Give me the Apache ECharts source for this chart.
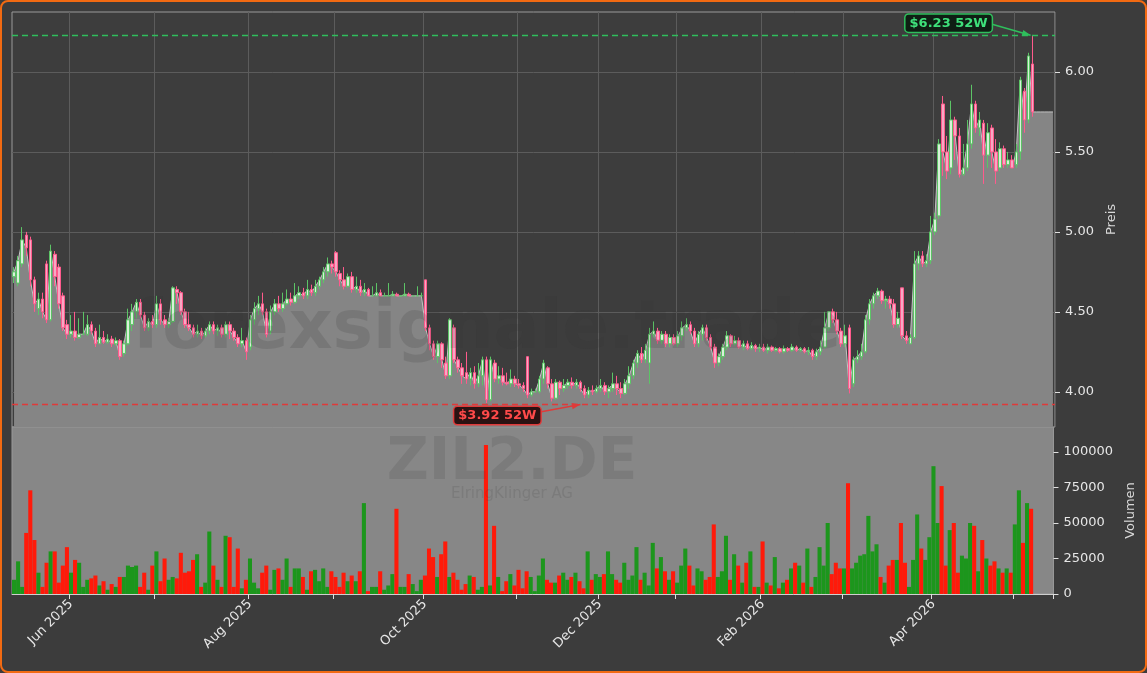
<!DOCTYPE html>
<html>
<head>
<meta charset="utf-8">
<script src="https://cdn.jsdelivr.net/npm/echarts@6.0.0/dist/echarts.min.js"></script>
<style>
  html, body { margin: 0; padding: 0; background: #3c3c3c; }
  #container { width: 1147px; height: 673px; box-sizing: border-box; border: 2px solid #f26a12; border-radius: 8px; background: #3c3c3c; }
</style>
</head>
<body>
<div id="container"></div>
<script>
// trading-day candles [open, close, low, high], month by month
var candlesMay25 = [[4.72,4.75,4.68,4.78],[4.68,4.82,4.66,4.85],[4.80,4.95,4.78,5.03],[4.98,4.90,4.85,5.00],[4.95,4.70,4.66,4.97],[4.70,4.55,4.50,4.72],[4.52,4.58,4.48,4.62],[4.58,4.50,4.46,4.62],[4.80,4.45,4.43,4.82],[4.45,4.88,4.44,4.92],[4.86,4.72,4.66,4.88],[4.78,4.55,4.52,4.80],[4.60,4.40,4.38,4.62],[4.42,4.36,4.33,4.45]];
var candlesJun25 = [[4.36,4.38,4.34,4.48],[4.38,4.34,4.32,4.50],[4.34,4.36,4.33,4.46],[4.36,4.36,4.36,4.50],[4.36,4.42,4.35,4.48],[4.42,4.38,4.36,4.44],[4.38,4.30,4.28,4.40],[4.30,4.34,4.30,4.42],[4.34,4.31,4.30,4.38],[4.31,4.33,4.30,4.36],[4.33,4.30,4.28,4.35],[4.30,4.32,4.29,4.34],[4.32,4.22,4.20,4.33],[4.24,4.30,4.22,4.32],[4.30,4.45,4.29,4.52],[4.42,4.50,4.38,4.55],[4.50,4.56,4.46,4.58],[4.56,4.48,4.46,4.58],[4.48,4.40,4.38,4.50],[4.40,4.44,4.38,4.46],[4.44,4.42,4.40,4.48]];
var candlesJul25 = [[4.42,4.55,4.40,4.60],[4.55,4.45,4.42,4.58],[4.45,4.42,4.40,4.48],[4.42,4.44,4.40,4.46],[4.44,4.65,4.43,4.66],[4.64,4.62,4.55,4.66],[4.62,4.50,4.48,4.63],[4.50,4.42,4.40,4.52],[4.42,4.40,4.38,4.50],[4.40,4.36,4.34,4.42],[4.36,4.38,4.34,4.42],[4.38,4.35,4.33,4.40],[4.35,4.38,4.34,4.40],[4.38,4.42,4.36,4.44],[4.42,4.38,4.36,4.44],[4.38,4.40,4.35,4.42],[4.40,4.36,4.34,4.42],[4.36,4.42,4.34,4.44],[4.42,4.38,4.33,4.44],[4.38,4.34,4.32,4.40],[4.34,4.30,4.28,4.36],[4.30,4.32,4.28,4.40],[4.32,4.25,4.20,4.34]];
var candlesAug25 = [[4.28,4.45,4.26,4.48],[4.45,4.52,4.42,4.56],[4.52,4.55,4.48,4.60],[4.55,4.50,4.48,4.62],[4.50,4.36,4.34,4.52],[4.38,4.50,4.36,4.54],[4.50,4.55,4.48,4.58],[4.55,4.52,4.50,4.60],[4.52,4.55,4.50,4.62],[4.55,4.58,4.54,4.64],[4.58,4.56,4.54,4.62],[4.56,4.60,4.55,4.68],[4.60,4.62,4.58,4.66],[4.62,4.60,4.58,4.65],[4.60,4.64,4.58,4.70],[4.64,4.62,4.60,4.67],[4.62,4.66,4.60,4.70],[4.66,4.70,4.64,4.72],[4.70,4.75,4.68,4.78],[4.75,4.80,4.72,4.84],[4.80,4.78,4.74,4.82]];
var candlesSep25 = [[4.87,4.75,4.72,4.88],[4.74,4.70,4.66,4.76],[4.70,4.66,4.64,4.78],[4.66,4.72,4.65,4.74],[4.72,4.64,4.62,4.75],[4.64,4.66,4.62,4.72],[4.66,4.62,4.60,4.70],[4.62,4.64,4.60,4.68],[4.64,4.60,4.60,4.65],[4.60,4.60,4.60,4.66],[4.60,4.62,4.60,4.68],[4.62,4.60,4.60,4.64],[4.60,4.60,4.60,4.62],[4.60,4.60,4.60,4.68],[4.60,4.61,4.60,4.63],[4.61,4.60,4.60,4.62],[4.60,4.60,4.60,4.60],[4.60,4.61,4.60,4.68],[4.61,4.60,4.60,4.62],[4.60,4.60,4.60,4.60],[4.60,4.60,4.60,4.66],[4.60,4.60,4.60,4.62]];
var candlesOct25 = [[4.70,4.40,4.38,4.70],[4.40,4.30,4.26,4.42],[4.30,4.22,4.20,4.32],[4.22,4.30,4.18,4.32],[4.30,4.20,4.15,4.31],[4.18,4.10,4.08,4.22],[4.10,4.45,4.08,4.46],[4.40,4.20,4.18,4.42],[4.20,4.15,4.12,4.22],[4.15,4.10,4.05,4.18],[4.12,4.08,4.05,4.25],[4.08,4.12,4.04,4.15],[4.12,4.05,4.02,4.16],[4.05,4.10,4.03,4.18],[4.10,4.20,4.04,4.22],[4.20,3.95,3.93,4.22],[3.95,4.20,3.94,4.22],[4.18,4.08,4.06,4.20],[4.08,4.10,4.05,4.16],[4.10,4.06,4.04,4.15],[4.06,4.05,4.04,4.12],[4.05,4.08,4.03,4.14],[4.08,4.05,4.03,4.10]];
var candlesNov25 = [[4.05,4.04,4.02,4.08],[4.04,4.02,4.00,4.06],[4.22,3.98,3.96,4.22],[3.98,4.00,3.97,4.02],[4.00,4.00,4.00,4.02],[4.00,4.08,3.99,4.10],[4.08,4.18,4.05,4.20],[4.15,4.05,4.02,4.16],[4.05,3.96,3.94,4.08],[3.96,4.06,3.95,4.08],[4.06,4.02,3.98,4.07],[4.02,4.04,4.00,4.08],[4.04,4.06,4.02,4.08],[4.06,4.04,4.02,4.09],[4.04,4.06,4.02,4.08],[4.06,4.02,4.00,4.07],[4.02,3.98,3.96,4.04],[3.98,4.01,3.96,4.03],[4.01,4.00,3.98,4.04],[4.00,4.02,3.99,4.04]];
var candlesDec25 = [[4.02,4.04,4.00,4.08],[4.04,4.00,3.98,4.06],[4.00,4.02,3.96,4.04],[4.02,4.05,4.00,4.12],[4.05,4.02,3.98,4.10],[4.02,3.99,3.96,4.06],[3.99,4.05,3.98,4.08],[4.05,4.10,4.02,4.16],[4.10,4.18,4.08,4.20],[4.18,4.24,4.15,4.26],[4.24,4.20,4.18,4.28],[4.20,4.26,4.18,4.30],[4.18,4.36,4.05,4.40],[4.36,4.38,4.34,4.44],[4.38,4.32,4.30,4.40],[4.32,4.36,4.30,4.38],[4.36,4.30,4.28,4.38],[4.30,4.34,4.28,4.36],[4.34,4.30,4.29,4.36]];
var candlesJan26 = [[4.30,4.35,4.28,4.38],[4.35,4.40,4.32,4.44],[4.40,4.42,4.38,4.46],[4.42,4.38,4.36,4.44],[4.38,4.30,4.28,4.40],[4.30,4.36,4.28,4.38],[4.36,4.40,4.32,4.42],[4.40,4.34,4.32,4.42],[4.34,4.28,4.26,4.36],[4.28,4.18,4.15,4.30],[4.18,4.22,4.16,4.24],[4.22,4.28,4.20,4.30],[4.28,4.35,4.26,4.38],[4.35,4.30,4.28,4.36],[4.30,4.32,4.29,4.35],[4.32,4.28,4.27,4.34],[4.28,4.30,4.26,4.32],[4.30,4.27,4.26,4.32],[4.27,4.29,4.26,4.31],[4.29,4.27,4.25,4.30],[4.27,4.28,4.25,4.30]];
var candlesFeb26 = [[4.28,4.26,4.25,4.30],[4.26,4.28,4.24,4.30],[4.28,4.26,4.25,4.29],[4.26,4.27,4.25,4.28],[4.27,4.25,4.24,4.28],[4.25,4.27,4.24,4.29],[4.27,4.26,4.25,4.28],[4.26,4.28,4.25,4.30],[4.28,4.26,4.25,4.29],[4.26,4.27,4.25,4.28],[4.27,4.25,4.24,4.28],[4.25,4.26,4.23,4.28],[4.26,4.22,4.20,4.27],[4.22,4.25,4.20,4.27],[4.25,4.28,4.23,4.32],[4.28,4.40,4.27,4.50],[4.40,4.50,4.38,4.50],[4.50,4.45,4.43,4.52],[4.45,4.38,4.36,4.50],[4.38,4.30,4.28,4.40]];
var candlesMar26 = [[4.30,4.35,4.28,4.42],[4.40,4.02,3.99,4.42],[4.05,4.20,4.03,4.22],[4.20,4.22,4.18,4.26],[4.22,4.25,4.20,4.30],[4.25,4.45,4.24,4.48],[4.45,4.55,4.42,4.58],[4.55,4.60,4.52,4.62],[4.60,4.63,4.58,4.65],[4.63,4.57,4.55,4.64],[4.57,4.58,4.52,4.60],[4.58,4.55,4.52,4.60],[4.55,4.42,4.40,4.58],[4.42,4.46,4.40,4.50],[4.65,4.35,4.33,4.65],[4.35,4.32,4.30,4.38],[4.30,4.34,4.30,4.36],[4.34,4.80,4.33,4.88],[4.80,4.85,4.76,4.88],[4.85,4.80,4.78,4.88],[4.80,4.82,4.78,4.86],[4.82,5.00,4.80,5.10]];
var candlesApr26 = [[5.00,5.08,4.98,5.12],[5.10,5.55,5.08,5.58],[5.80,5.50,5.35,5.85],[5.50,5.38,5.33,5.60],[5.40,5.70,5.36,5.82],[5.70,5.60,5.45,5.72],[5.60,5.36,5.34,5.65],[5.36,5.40,5.35,5.55],[5.40,5.55,5.38,5.70],[5.55,5.80,5.52,5.92],[5.80,5.65,5.62,5.82],[5.65,5.70,5.60,5.75],[5.68,5.48,5.30,5.70],[5.48,5.62,5.40,5.68],[5.65,5.50,5.40,5.67],[5.50,5.38,5.30,5.58],[5.40,5.52,5.38,5.56],[5.52,5.42,5.40,5.54],[5.42,5.45,5.40,5.50],[5.45,5.40,5.40,5.48]];
var candlesMay26 = [[5.42,5.50,5.40,5.55],[5.50,5.95,5.45,5.97],[5.88,5.70,5.62,5.90],[5.70,6.10,5.68,6.12],[6.05,5.75,5.72,6.23]];

var volumes = [
  10000,23000,5000,43000,73000,38000,15000,5000,22000,30000,30000,8000,20000,33000,
  15000,24000,22000,5000,10000,11000,13000,6000,9000,3000,7000,5000,12000,12000,20000,19000,20000,5000,15000,3000,20000,
  30000,9000,25000,10000,12000,11000,29000,15000,16000,24000,28000,5000,8000,44000,20000,10000,5000,41000,40000,5000,32000,4000,10000,
  25000,8000,4000,15000,20000,3000,17000,18000,10000,25000,5000,18000,18000,12000,3000,16000,17000,9000,18000,5000,16000,
  12000,5000,15000,9000,13000,9000,16000,64000,2000,5000,5000,16000,3000,6000,14000,60000,5000,5000,14000,7000,2000,10000,
  13000,32000,26000,12000,28000,37000,12000,15000,10000,3000,7000,13000,12000,3000,5000,105000,6000,48000,12000,2000,9000,14000,6000,
  17000,4000,16000,12000,2000,13000,25000,10000,8000,8000,13000,15000,10000,12000,15000,9000,4000,30000,10000,14000,
  12000,14000,30000,14000,10000,8000,22000,10000,13000,33000,10000,15000,6000,36000,18000,26000,16000,10000,16000,
  8000,20000,32000,20000,6000,18000,16000,10000,12000,49000,12000,16000,41000,10000,28000,20000,8000,22000,30000,5000,5000,
  37000,8000,6000,26000,4000,8000,10000,18000,22000,20000,8000,32000,5000,12000,33000,20000,50000,14000,22000,18000,
  18000,78000,18000,22000,27000,28000,55000,30000,35000,12000,8000,20000,24000,24000,50000,22000,5000,24000,56000,32000,24000,40000,
  90000,50000,76000,20000,45000,50000,15000,27000,25000,50000,48000,16000,38000,25000,20000,23000,18000,15000,18000,15000,
  49000,73000,36000,64000,60000
];

var high52w = 6.23;
var low52w = 3.92;
var monthNames = ["Jan","Feb","Mar","Apr","May","Jun","Jul","Aug","Sep","Oct","Nov","Dec"];
var holidays = ["2025-12-24","2025-12-25","2025-12-26","2025-12-31","2026-01-01","2026-04-03","2026-04-06","2026-05-01"];

var candles = [].concat(candlesMay25, candlesJun25, candlesJul25, candlesAug25, candlesSep25, candlesOct25,
  candlesNov25, candlesDec25, candlesJan26, candlesFeb26, candlesMar26, candlesApr26, candlesMay26);

// trading days
var dates = [];
var d = new Date(Date.UTC(2025, 4, 13));
while (dates.length < candles.length) {
  var wd = d.getUTCDay();
  var s = d.toISOString().slice(0, 10);
  if (wd !== 0 && wd !== 6 && holidays.indexOf(s) < 0) dates.push(s);
  d.setUTCDate(d.getUTCDate() + 1);
}
var pad = 5;
var cats = dates.slice();
for (var p = 0; p < pad; p++) cats.push("pad" + p);

var ohlc = candles.map(function (c) { return [c[0], c[1], c[2], c[3]]; });
var closes = candles.map(function (c) { return c[1]; });
var areaData = closes.slice();
for (var p = 0; p < pad; p++) areaData.push(closes[closes.length - 1]);
var volData = volumes.map(function (v, i) {
  var c = candles[i];
  return { value: v, itemStyle: { color: c && c[1] < c[0] ? "#ff1a0a" : "#1c961c" } };
});

function monthStart(idx) {
  if (idx <= 0 || idx >= dates.length) return false;
  return dates[idx].slice(5, 7) !== dates[idx - 1].slice(5, 7);
}
function labelMonth(idx) {
  return monthStart(idx) && parseInt(dates[idx].slice(5, 7), 10) % 2 === 0;
}

var dom = document.getElementById("container");
var myChart = echarts.init(dom, null, { renderer: "canvas" });
var font = "DejaVu Sans";

var option = {
  animation: false,
  textStyle: { fontFamily: font },
  grid: [
    { left: 10, right: 90, top: 10, height: 415, show: true, backgroundColor: "#3d3d3d", borderColor: "#9a9a9a", borderWidth: 1 },
    { left: 10, right: 90, top: 425, bottom: 77, show: true, backgroundColor: "#878787", borderColor: "#9a9a9a", borderWidth: 1 }
  ],
  xAxis: [
    {
      type: "category", gridIndex: 0, data: cats, boundaryGap: true,
      axisLine: { show: false }, axisTick: { show: false }, axisLabel: { show: false },
      splitLine: { show: true, interval: function (i) { return monthStart(i); }, lineStyle: { color: "#5c5c5c", width: 1 } }
    },
    {
      type: "category", gridIndex: 1, data: cats, boundaryGap: true,
      axisLine: { lineStyle: { color: "#cfcfcf" } },
      axisTick: { show: true, interval: function (i) { return monthStart(i); }, lineStyle: { color: "#e0e0e0" }, length: 5 },
      axisLabel: {
        interval: function (i) { return labelMonth(i); }, rotate: 45, color: "#e6e6e6", fontSize: 13, margin: 8,
        formatter: function (v) { return monthNames[parseInt(v.slice(5, 7), 10) - 1] + " " + v.slice(0, 4); }
      },
      splitLine: { show: false }
    }
  ],
  yAxis: [
    {
      type: "value", gridIndex: 0, position: "right", min: 3.78, max: 6.375,
      name: "Preis", nameLocation: "middle", nameGap: 45, nameRotate: 90, nameTextStyle: { color: "#d8d8d8", fontSize: 13 },
      axisLine: { show: false },
      axisTick: { show: true, customValues: [4, 4.5, 5, 5.5, 6], lineStyle: { color: "#e0e0e0" }, length: 5 },
      axisLabel: { customValues: [4, 4.5, 5, 5.5, 6], color: "#e6e6e6", fontSize: 13, margin: 10,
        formatter: function (v) { return v.toFixed(2); } },
      splitLine: { show: true, lineStyle: { color: "#5c5c5c" } }
    },
    {
      type: "value", gridIndex: 1, position: "right", min: 0, max: 117600, interval: 25000,
      name: "Volumen", nameLocation: "middle", nameGap: 70, nameRotate: 90, nameTextStyle: { color: "#d8d8d8", fontSize: 13 },
      axisLine: { show: false },
      axisTick: { show: true, lineStyle: { color: "#e0e0e0" }, length: 5 },
      axisLabel: { color: "#e6e6e6", fontSize: 13, margin: 10, showMaxLabel: false,
        formatter: function (v) { return String(v); } },
      splitLine: { show: false }
    }
  ],
  series: [
    {
      type: "line", xAxisIndex: 0, yAxisIndex: 0, data: areaData, symbol: "none",
      lineStyle: { color: "#c4c4c4", width: 1 },
      areaStyle: { color: "#858585", opacity: 1, origin: "start" }, z: 1
    },
    {
      type: "candlestick", xAxisIndex: 0, yAxisIndex: 0, data: ohlc, barWidth: 3, z: 3,
      itemStyle: { color: "#d9f0d9", borderColor: "#5cc466", color0: "#f7a8c4", borderColor0: "#ff5a8c", borderWidth: 1 },
      markLine: {
        symbol: "none", silent: true, label: { show: false },
        data: [
          { yAxis: high52w, lineStyle: { color: "#2fbf5c", type: [6, 4], width: 1.3 } },
          { yAxis: low52w, lineStyle: { color: "#e03a3a", type: [6, 4], width: 1.3 } }
        ]
      }
    },
    {
      type: "bar", xAxisIndex: 1, yAxisIndex: 1, data: volData, barWidth: "100%", barGap: 0
    }
  ]
};

myChart.setOption(option);

// annotations and watermarks
function px(i, v) { return myChart.convertToPixel({ xAxisIndex: 0, yAxisIndex: 0 }, [i, v]); }
var hiIdx = 0, loIdx = 0;
candles.forEach(function (c, i) { if (c[3] > candles[hiIdx][3]) hiIdx = i; if (c[2] < candles[loIdx][2]) loIdx = i; });
var hiPt = px(hiIdx, high52w);
var loPt = px(loIdx + 23, low52w);
var hiBox = [hiPt[0] - 84, hiPt[1] - 12];
var loBox = [loPt[0] - 83, loPt[1] + 11];

function tag(center, text, fg, bg, border) {
  return {
    type: "text", x: center[0], y: center[1], z: 20,
    style: { text: text, fill: fg, font: "bold 13px " + font, align: "center", verticalAlign: "middle",
      backgroundColor: bg, borderColor: border, borderWidth: 1.5, borderRadius: 3, padding: [2, 4] }
  };
}
function arrow(from, to, color) {
  var ang = Math.atan2(to[1] - from[1], to[0] - from[0]);
  var a1 = [to[0] - 9 * Math.cos(ang - 0.35), to[1] - 9 * Math.sin(ang - 0.35)];
  var a2 = [to[0] - 9 * Math.cos(ang + 0.35), to[1] - 9 * Math.sin(ang + 0.35)];
  return [
    { type: "line", z: 19, shape: { x1: from[0], y1: from[1], x2: to[0], y2: to[1] }, style: { stroke: color, lineWidth: 1.5 } },
    { type: "polygon", z: 19, shape: { points: [to, a1, a2] }, style: { fill: color } }
  ];
}

myChart.setOption({
  graphic: [
    { type: "text", x: 485, y: 328, z: 10, silent: true,
      style: { text: "forexsignale.trade", fill: "rgba(50,50,50,0.16)", font: "bold 68px " + font, align: "center", verticalAlign: "middle" } },
    { type: "text", x: 510, y: 462, z: 10, silent: true,
      style: { text: "ZIL2.DE", fill: "rgba(60,60,60,0.16)", font: "bold 58px " + font, align: "center", verticalAlign: "middle" } },
    { type: "text", x: 510, y: 492, z: 10, silent: true,
      style: { text: "ElringKlinger AG", fill: "rgba(60,60,60,0.16)", font: "15px " + font, align: "center", verticalAlign: "middle" } },
    tag(hiBox, "$6.23 52W", "#3ee07a", "#0f1f14", "#2fbf5c"),
    tag(loBox, "$3.92 52W", "#ff4a4a", "#2a1212", "#e03a3a")
  ].concat(arrow([hiBox[0] + 40, hiBox[1]], [hiPt[0] - 2, hiPt[1]], "#2fbf5c"))
   .concat(arrow([loBox[0] + 40, loBox[1] - 3], [loPt[0], loPt[1]], "#e03a3a"))
});

window.addEventListener("resize", myChart.resize);
</script>
</body>
</html>
